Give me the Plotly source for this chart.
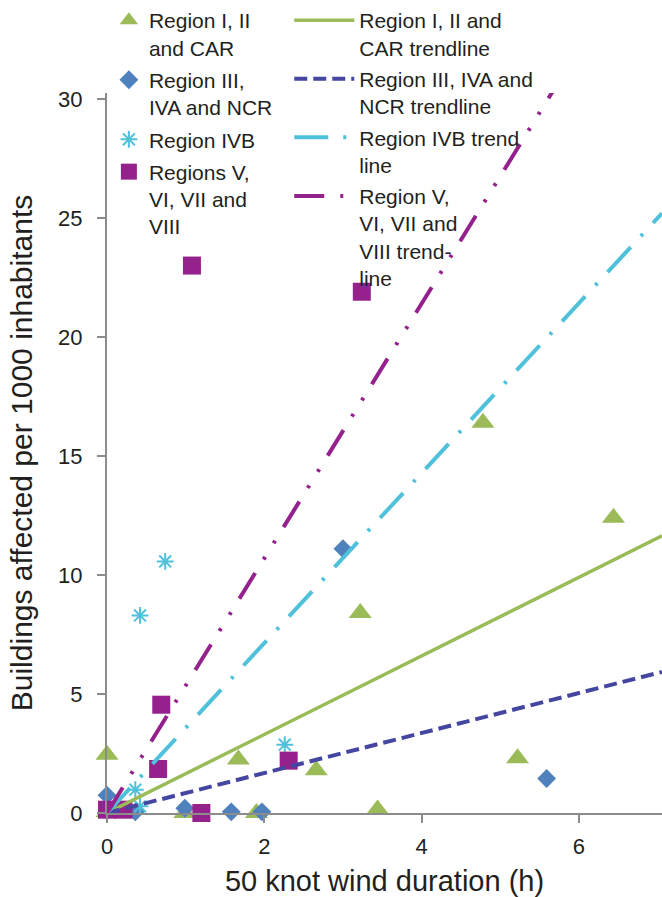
import plotly.graph_objects as go

# ---- data ----
r1_x = [0, 0, 0.99, 1.67, 1.90, 2.66, 3.22, 3.44, 4.78, 5.22, 6.44]
r1_y = [2.45, 0.03, 0.0, 2.25, 0.0, 1.80, 8.40, 0.15, 16.40, 2.30, 12.40]

r3_x = [0, 0, 0.36, 0.99, 1.58, 1.97, 3.00, 5.59]
r3_y = [0.75, 0.10, 0.05, 0.20, 0.05, 0.05, 11.10, 1.45]

r4b_x = [0, 0.36, 0.42, 0.42, 0.74, 2.26]
r4b_y = [0.07, 0.98, 0.28, 8.30, 10.57, 2.87]

r5_x = [0, 0.21, 0.65, 0.69, 1.08, 1.20, 2.31, 3.24]
r5_y = [0.14, 0.14, 1.85, 4.55, 23.0, 0.0, 2.20, 21.90]

# trendlines (slope, intercept)
trend_slopes = [1.65, 0.84, 3.57, 5.35]
trend_intercepts = [0.0, 0.0, 0.0, 0.0]

marker_names = ["Region I, II<br>and CAR", "Region III,<br>IVA and NCR", "Region IVB",
                "Regions V,<br>VI, VII and<br>VIII"]
trend_names = ["Region I, II and<br>CAR trendline", "Region III, IVA and<br>NCR trendline",
               "Region IVB trend<br>line", "Region V,<br>VI, VII and<br>VIII trend-<br>line"]

x_ticks = [0, 2, 4, 6]
y_ticks = [0, 5, 10, 15, 20, 25, 30]

X_MAX = 7.057
Y_MAX = 30.25

GREEN = "#9BBB59"
BLUE = "#4F81BD"
NAVY = "#4446A0"
CYAN = "#4FC1DB"
PURPLE = "#94218C"
AXIS = "#8C8C8C"
TEXT = "#231F20"
FONT = "Liberation Sans, Arial, sans-serif"

fig = go.Figure()

series = [
    (r1_x, r1_y, marker_names[0], GREEN, "triangle-up", 20, None),
    (r3_x, r3_y, marker_names[1], BLUE, "diamond", 14.5, None),
    (r4b_x, r4b_y, marker_names[2], CYAN, "asterisk-open", 14, 2),
    (r5_x, r5_y, marker_names[3], PURPLE, "square", 18, None),
]
for i, (xs, ys, name, col, sym, size, lw) in enumerate(series):
    mk = dict(symbol=sym, size=size, color=col)
    if lw:
        mk["line"] = dict(color=col, width=lw)
    else:
        mk["line"] = dict(width=0)
    fig.add_trace(go.Scatter(x=xs, y=ys, mode="markers", name=name, marker=mk,
                             cliponaxis=False, legend="legend", legendgroup=f"m{i}"))

trend_styles = [
    (GREEN, "solid", 3.5),
    (NAVY, "13px,6px", 4),
    (CYAN, "34px,15px,3px,15px", 4),
    (PURPLE, "30px,16px,3px,16px,3px,16px", 4),
]
for i, ((col, dash, w), m, b, name) in enumerate(zip(trend_styles, trend_slopes,
                                                      trend_intercepts, trend_names)):
    xs = [0, X_MAX]
    ys = [m * x + b for x in xs]
    fig.add_trace(go.Scatter(x=xs, y=ys, mode="lines", name=name,
                             line=dict(color=col, dash=dash, width=w),
                             legend="legend2", legendgroup=f"t{i}"))

fig.update_layout(
    width=662, height=897,
    margin=dict(l=107, r=0, t=93, b=84, autoexpand=False),
    paper_bgcolor="white", plot_bgcolor="white",
    font=dict(family=FONT, color=TEXT, size=21),
    legend=dict(x=0.0034, xanchor="left", y=1.0, yanchor="top", yref="container",
                valign="top", font=dict(size=21, color=TEXT), bgcolor="rgba(0,0,0,0)",
                tracegroupgap=2),
    legend2=dict(x=0.3284, xanchor="left", y=1.0, yanchor="top", yref="container",
                 valign="top", font=dict(size=21, color=TEXT), bgcolor="rgba(0,0,0,0)",
                 itemwidth=60, tracegroupgap=1),
    xaxis=dict(range=[0, X_MAX], tickvals=x_ticks, showgrid=False, zeroline=False,
               showline=True, linecolor=AXIS, linewidth=2,
               ticks="outside", ticklen=8, tickwidth=2, tickcolor=AXIS,
               tickfont=dict(size=22, color=TEXT), ticklabelstandoff=5,
               title=dict(text="50 knot wind duration (h)", font=dict(size=29, color=TEXT),
                          standoff=12)),
    yaxis=dict(range=[0, Y_MAX], tickvals=y_ticks, showgrid=False, zeroline=False,
               showline=True, linecolor=AXIS, linewidth=2,
               ticks="outside", ticklen=8, tickwidth=2, tickcolor=AXIS,
               tickfont=dict(size=22, color=TEXT), ticklabelstandoff=10,
               title=dict(text="Buildings affected per 1000 inhabitants",
                          font=dict(size=30, color=TEXT), standoff=17)),
)

fig.write_html("out.html", config={"displayModeBar": False},
               post_script="document.body.style.margin='0';")
